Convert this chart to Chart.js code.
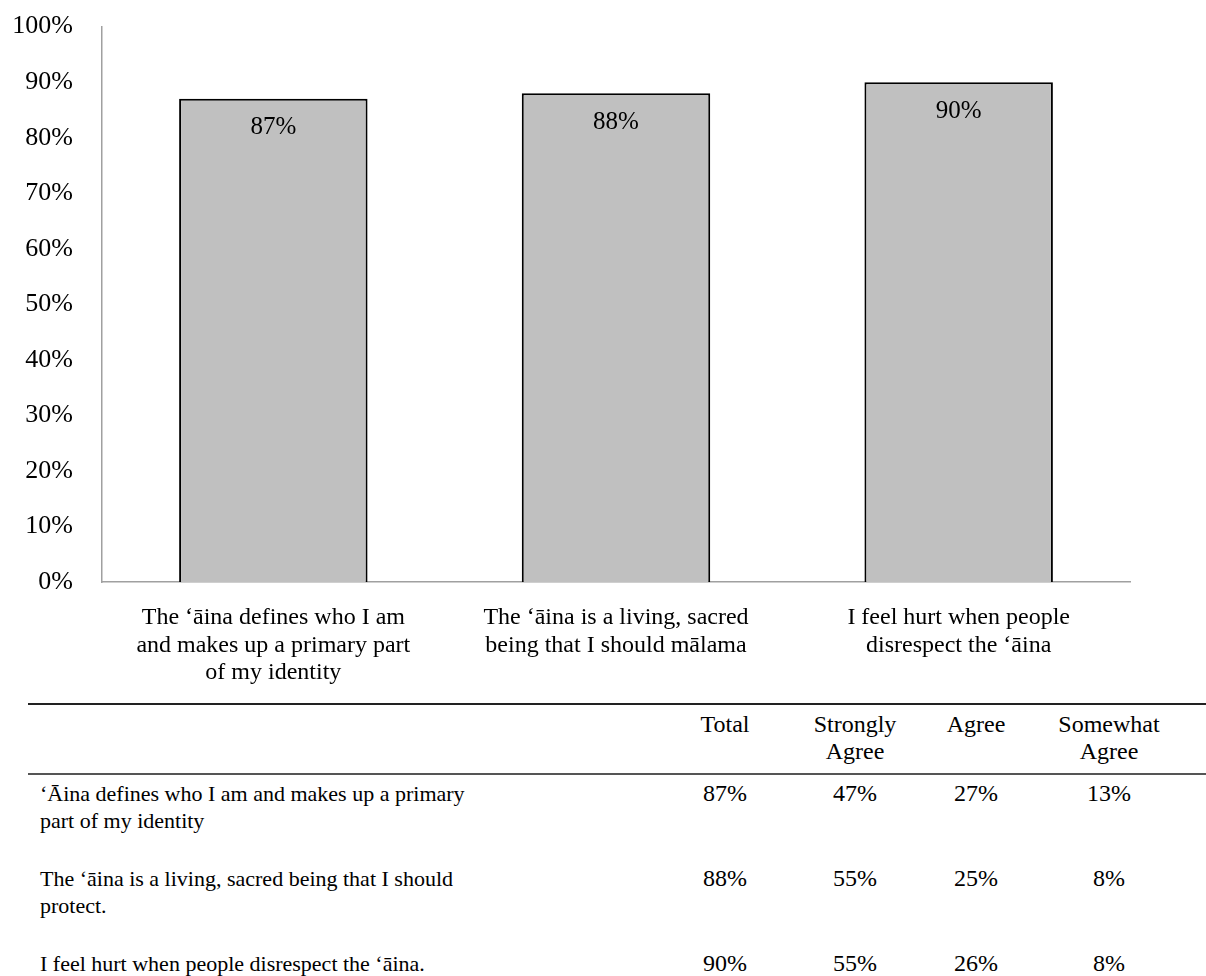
<!DOCTYPE html>
<html>
<head>
<meta charset="utf-8">
<script src="https://cdn.jsdelivr.net/npm/chart.js@4"></script>
<style>
  body { margin: 0; background: #fff; font-family: "Liberation Serif", "Times New Roman", serif; }
  #wrap { position: absolute; left: 0; top: -18px; width: 1206px; height: 718px; }
  #tbl { position: absolute; left: 28px; top: 703px; border-collapse: collapse; font-size: 24px; color: #000; line-height: 27px; }
  #tbl thead tr { border-top: 2px solid #222; border-bottom: 2px solid #555; }
  #tbl th { font-weight: normal; text-align: center; padding: 6px 0 8px 0; vertical-align: top; }
  #tbl td { text-align: center; padding: 5px 0 26px 0; vertical-align: top; }
  #tbl td.lab { text-align: left; padding-left: 12px; font-size: 22px; }
</style>
</head>
<body>
<div id="wrap"><canvas id="myChart" width="1206" height="718"></canvas></div>
<table id="tbl">
  <colgroup>
    <col style="width:652px"><col style="width:90px"><col style="width:170px"><col style="width:72px"><col style="width:194px">
  </colgroup>
  <thead><tr id="head"></tr></thead>
  <tbody id="body"></tbody>
</table>
<script>
// Datos del gráfico
var categorias = [
  ['The ‘āina defines who I am', 'and makes up a primary part', 'of my identity'],
  ['The ‘āina is a living, sacred', 'being that I should mālama'],
  ['I feel hurt when people', 'disrespect the ‘āina']
];
var valores = [87, 88, 90];

// Datos de la tabla
var columnas = ['', 'Total', 'Strongly<br>Agree', 'Agree', 'Somewhat<br>Agree'];
var filas = [
  '‘Āina defines who I am and makes up a primary<br>part of my identity',
  'The ‘āina is a living, sacred being that I should<br>protect.',
  'I feel hurt when people disrespect the ‘āina.'
];
var total = [87, 88, 90];
var muyDeAcuerdo = [47, 55, 55];
var deAcuerdo = [27, 25, 26];
var algoDeAcuerdo = [13, 8, 8];

var fuente = "'Liberation Serif', 'Times New Roman', serif";

// Etiquetas dentro de las barras
var etiquetas = {
  id: 'etiquetas',
  afterDatasetsDraw: function(chart) {
    var c = chart.ctx;
    var meta = chart.getDatasetMeta(0);
    c.save();
    c.font = '25px ' + fuente;
    c.fillStyle = '#000';
    c.textAlign = 'center';
    c.textBaseline = 'middle';
    meta.data.forEach(function(bar, i) {
      c.fillText(valores[i] + '%', bar.x, bar.y + 29);
    });
    c.restore();
  }
};

var ctx = document.getElementById('myChart').getContext('2d');
new Chart(ctx, {
  type: 'bar',
  data: {
    labels: categorias,
    datasets: [{
      data: valores,
      backgroundColor: '#c0c0c0',
      borderColor: '#000',
      borderWidth: 2,
      barPercentage: 0.55,
      categoryPercentage: 1.0
    }]
  },
  options: {
    responsive: false,
    animation: false,
    layout: { padding: { top: 11, right: 76, left: 0, bottom: 0 } },
    plugins: { legend: { display: false }, tooltip: { enabled: false } },
    scales: {
      x: {
        grid: { display: false, drawTicks: false },
        border: { color: '#a0a0a0', width: 1.5 },
        ticks: { color: '#000', font: { family: fuente, size: 24, lineHeight: 1.15 }, padding: 22, maxRotation: 0, autoSkip: false },
        afterFit: function(s) { s.height = 118; }
      },
      y: {
        min: 0, max: 100,
        grid: { display: false, drawTicks: false },
        border: { color: '#a0a0a0', width: 1.5 },
        ticks: { stepSize: 10, color: '#000', font: { family: fuente, size: 26 }, padding: 29,
          callback: function(v) { return v + '%'; } },
        afterFit: function(s) { s.width = 102; }
      }
    }
  },
  plugins: [etiquetas]
});

// Construir la tabla
var head = document.getElementById('head');
columnas.forEach(function(t) {
  var th = document.createElement('th');
  th.innerHTML = t;
  head.appendChild(th);
});
var body = document.getElementById('body');
filas.forEach(function(f, i) {
  var tr = document.createElement('tr');
  var celdas = [f, total[i] + '%', muyDeAcuerdo[i] + '%', deAcuerdo[i] + '%', algoDeAcuerdo[i] + '%'];
  celdas.forEach(function(t, j) {
    var td = document.createElement('td');
    td.innerHTML = t;
    if (j === 0) td.className = 'lab';
    tr.appendChild(td);
  });
  body.appendChild(tr);
});
</script>
</body>
</html>
